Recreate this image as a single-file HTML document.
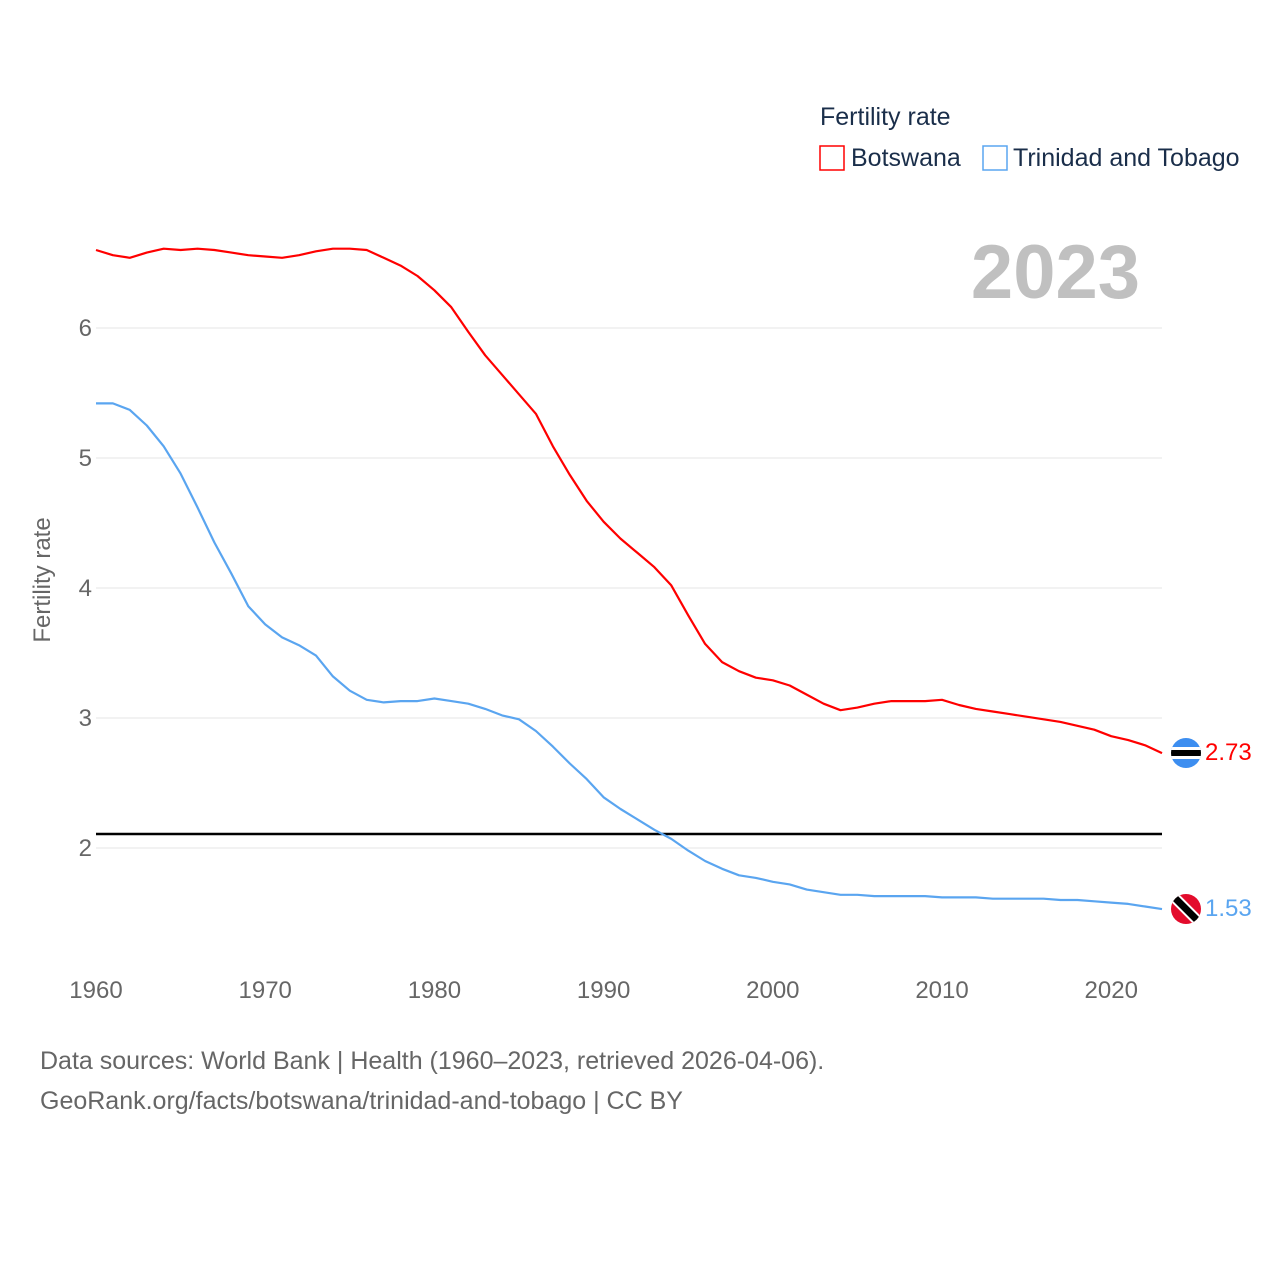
<!DOCTYPE html>
<html><head><meta charset="utf-8"><style>
body{margin:0;background:#fff;font-family:"Liberation Sans",sans-serif}
svg text{font-family:"Liberation Sans",sans-serif}
</style></head><body>
<svg width="1280" height="1280" viewBox="0 0 1280 1280" id="chart">
<rect width="1280" height="1280" fill="#fff"/>
<g id="grid"></g>
<g id="xticks"></g>
<g id="yticks"></g>
<text x="50" y="580" transform="rotate(-90 50 580)" text-anchor="middle" font-size="24" fill="#666">Fertility rate</text>
<text x="1140" y="298" text-anchor="end" font-size="76" font-weight="bold" fill="#c0c0c0">2023</text>
<line x1="96" x2="1162" y1="834" y2="834" stroke="#000" stroke-width="2.5"/>
<g id="series"></g>
<g>
<text x="820" y="125" font-size="25" fill="#1a2e4a">Fertility rate</text>
<g><rect x="820" y="146" width="24" height="24" fill="none" stroke="#f00" stroke-width="1.5"/><text x="851" y="166" font-size="25" fill="#1a2e4a">Botswana</text></g>
<g><rect x="983" y="146" width="24" height="24" fill="none" stroke="#5aa5f0" stroke-width="1.5"/><text x="1013" y="166" font-size="25" fill="#1a2e4a">Trinidad and Tobago</text></g>
</g>
<g>
<clipPath id="c1"><circle cx="1186" cy="753" r="15"/></clipPath>
<g clip-path="url(#c1)"><rect x="1170" y="737" width="32" height="32" fill="#3d8ef0"/><rect x="1170" y="747" width="32" height="12" fill="#fff"/><rect x="1170" y="750" width="32" height="6" fill="#000"/></g>
</g>
<g>
<clipPath id="c2"><circle cx="1186" cy="909" r="15"/></clipPath>
<g clip-path="url(#c2)"><rect x="1170" y="893" width="32" height="32" fill="#e30c2c"/><line x1="1170" y1="893" x2="1202" y2="925" stroke="#fff" stroke-width="11"/><line x1="1170" y1="893" x2="1202" y2="925" stroke="#000" stroke-width="7"/></g>
</g>
<text x="1205" y="760" font-size="24" fill="#f00">2.73</text>
<text x="1205" y="916" font-size="24" fill="#5aa5f0">1.53</text>
<text x="40" y="1069" font-size="25" fill="#666">Data sources: World Bank | Health (1960–2023, retrieved 2026-04-06).</text>
<text x="40" y="1109" font-size="25" fill="#666">GeoRank.org/facts/botswana/trinidad-and-tobago | CC BY</text>
</svg>
<script>
const years=[];for(let y=1960;y<=2023;y++)years.push(y);
const botswana=[6.60,6.56,6.54,6.58,6.61,6.60,6.61,6.60,6.58,6.56,6.55,6.54,6.56,6.59,6.61,6.61,6.60,6.54,6.48,6.40,6.29,6.16,5.97,5.79,5.64,5.49,5.34,5.09,4.87,4.67,4.51,4.38,4.27,4.16,4.02,3.79,3.57,3.43,3.36,3.31,3.29,3.25,3.18,3.11,3.06,3.08,3.11,3.13,3.13,3.13,3.14,3.10,3.07,3.05,3.03,3.01,2.99,2.97,2.94,2.91,2.86,2.83,2.79,2.73];
const trinidad=[5.42,5.42,5.37,5.25,5.09,4.88,4.62,4.35,4.11,3.86,3.72,3.62,3.56,3.48,3.32,3.21,3.14,3.12,3.13,3.13,3.15,3.13,3.11,3.07,3.02,2.99,2.90,2.78,2.65,2.53,2.39,2.30,2.22,2.14,2.07,1.98,1.90,1.84,1.79,1.77,1.74,1.72,1.68,1.66,1.64,1.64,1.63,1.63,1.63,1.63,1.62,1.62,1.62,1.61,1.61,1.61,1.61,1.60,1.60,1.59,1.58,1.57,1.55,1.53];
const xTicks=[1960,1970,1980,1990,2000,2010,2020];
const yTicks=[2,3,4,5,6];
const NS="http://www.w3.org/2000/svg";
const xs=y=>96+(y-1960)*(1162-96)/63;
const ys=v=>848-(v-2)*130;
function mk(t,a,p){const e=document.createElementNS(NS,t);for(const k in a)e.setAttribute(k,a[k]);p.appendChild(e);return e;}
const grid=document.getElementById('grid'),yt=document.getElementById('yticks'),xt=document.getElementById('xticks'),ser=document.getElementById('series');
yTicks.forEach(v=>{
 const l=mk('line',{x1:96,x2:1162,y1:ys(v),y2:ys(v),stroke:'#e6e6e6','stroke-width':1},grid);
 
 
 const t=mk('text',{x:92,y:ys(v)+8,'text-anchor':'end','font-size':24,fill:'#666'},yt);t.textContent=v;
 
 
});
xTicks.forEach(v=>{
 const t=mk('text',{x:xs(v),y:998,'text-anchor':'middle','font-size':24,fill:'#666'},xt);t.textContent=v;
 
 
});
function line(data,color,name){
 const d=data.map((v,i)=>(i?'L':'M')+xs(years[i]).toFixed(1)+','+ys(v).toFixed(1)).join('');
 const p=mk('path',{d:d,fill:'none',stroke:color,'stroke-width':2.2,'stroke-linejoin':'round'},ser);
 
 
}
line(botswana,'#f00','botswana-line');
line(trinidad,'#5aa5f0','trinidad-line');
</script>
</body></html>
